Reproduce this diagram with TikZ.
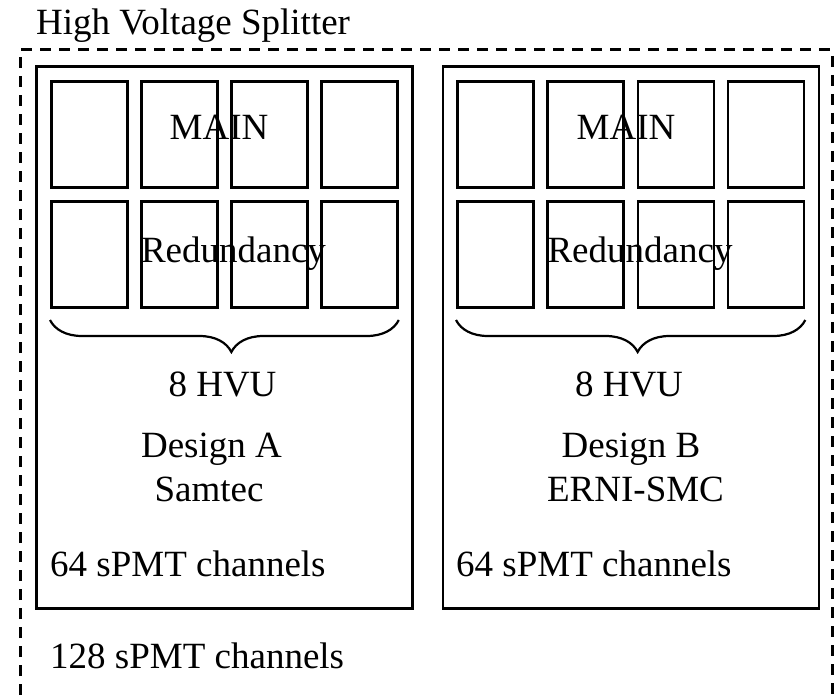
\documentclass[tikz,border=0pt]{standalone}
\usepackage{fontspec}
\setmainfont{Liberation Serif}
\usetikzlibrary{decorations.pathreplacing}
\begin{document}
\begin{tikzpicture}[x=1pt,y=-1pt,
  txt/.style={font=\fontsize{37}{44}\selectfont, inner sep=0pt, anchor=base},
  txtl/.style={txt, anchor=base west},
  board/.style={draw, line width=2.9pt, inner sep=0pt, anchor=north west, minimum width=376pt, minimum height=542pt},
  cell/.style={draw, line width=2.8pt, inner sep=0pt, anchor=north west, minimum width=76pt, minimum height=106pt},
  outer/.style={draw, line width=3pt, dash pattern=on 11pt off 8pt},
  hvbrace/.style={decorate, decoration={brace, mirror, amplitude=32pt, aspect=0.52}, line width=2.2pt}]
\useasboundingbox (0,0) rectangle (834,695);
% outer dashed splitter frame (open at bottom, cropped)
\coordinate (oBL) at (20,695);
\coordinate (oTL) at (20,50);
\coordinate (oTR) at (832,50);
\coordinate (oBR) at (832,695);
\draw[outer] (oBL) -- (oTL) -- (oTR) -- (oBR);
\node[txtl] (title) at (36,35) {High Voltage Splitter};
% boards
\node[board] (bA) at (35,65) {};
\node[board] (bB) at (441.5,65) {};
% cells
\foreach \i/\x in {1/50,2/140,3/230,4/320}{
  \node[cell] (a1\i) at (\x,80) {};
  \node[cell] (a2\i) at (\x,200) {};
}
\foreach \i/\x in {1/456,2/546,3/636.5,4/726.5}{
  \node[cell] (b1\i) at (\x,80) {};
  \node[cell] (b2\i) at (\x,200) {};
}
% braces
\draw[hvbrace] (a21.south west |- 0,320) -- (a24.south east |- 0,320);
\draw[hvbrace] (b21.south west |- 0,320) -- (b24.south east |- 0,320);
% labels A
\node[txt] (mainA) at (219,140) {MAIN};
\node[txt] (redA) at (233.5,262) {Redundancy};
\node[txt] (hvuA) at (222.5,396) {8 HVU};
\node[txt] (desA) at (211.5,457) {Design A};
\node[txt] (conA) at (209,501) {Samtec};
\node[txtl] (chA) at (50,576) {64 sPMT channels};
% labels B
\node[txt] (mainB) at (626,140) {MAIN};
\node[txt] (redB) at (640,262) {Redundancy};
\node[txt] (hvuB) at (629,396) {8 HVU};
\node[txt] (desB) at (631,457) {Design B};
\node[txt] (conB) at (635.5,501) {ERNI-SMC};
\node[txtl] (chB) at (456,576) {64 sPMT channels};
% total
\node[txtl] (tot) at (50,668) {128 sPMT channels};
\end{tikzpicture}
\end{document}
